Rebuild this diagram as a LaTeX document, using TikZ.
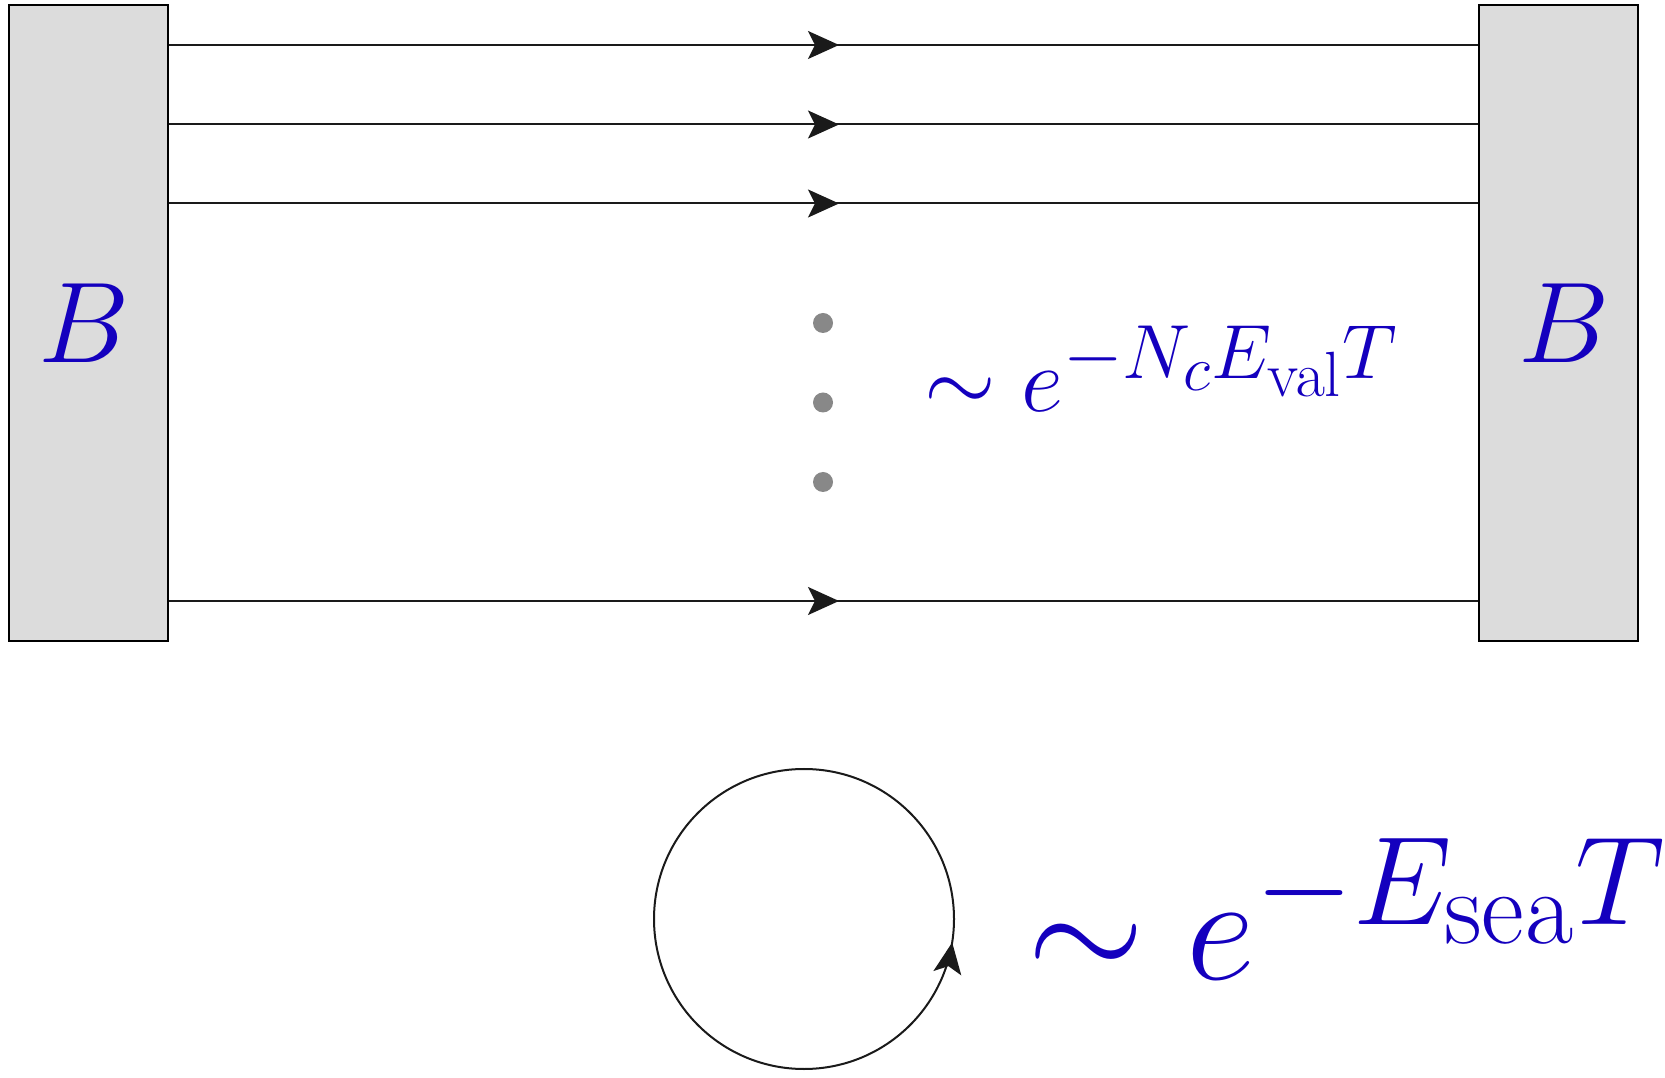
\documentclass[tikz,border=0pt]{standalone}
\usepackage{graphicx}
\usetikzlibrary{arrows.meta,decorations.markings}
\definecolor{txtblue}{RGB}{20,0,190}
\definecolor{boxgray}{RGB}{220,220,220}
\definecolor{linegray}{RGB}{26,26,26}
\definecolor{dotgray}{RGB}{136,136,136}
\tikzset{
  midtip/.tip={Stealth[length=31pt,width=28pt,inset=7pt]},
  wall/.style={draw=black, fill=boxgray, line width=2pt, minimum width=159pt, minimum height=636pt, inner sep=0pt},
  quark/.style={draw=linegray, line width=2pt,
    decoration={markings, mark=at position 670pt with {\arrow{midtip}}}, postaction={decorate}},
  loopq/.style={draw=linegray, line width=2pt,
    decoration={markings, mark=at position 0.975 with {\arrow{midtip}}}, postaction={decorate}},
  dotn/.style={circle, fill=dotgray, minimum size=20pt, inner sep=0pt},
  lbl/.style={text=txtblue, inner sep=0pt, font=\Huge},
}
\begin{document}
\begin{tikzpicture}[x=1pt,y=1pt]
\useasboundingbox (0,0) rectangle (1665,1077);
\node[wall] (L) at (88.5,754) {};
\node[wall] (R) at (1558.5,754) {};
\node[lbl] (BL) at (84,754) {\scalebox{4.62}{$B$}};
\node[lbl] (BR) at (1564,754) {\scalebox{4.62}{$B$}};
\draw[quark] (L.east |- 0,1032) -- (R.west |- 0,1032);
\draw[quark] (L.east |- 0,952.5) -- (R.west |- 0,952.5);
\draw[quark] (L.east |- 0,873.5) -- (R.west |- 0,873.5);
\draw[quark] (L.east |- 0,476) -- (R.west |- 0,476);
\node[dotn] (d1) at (823,754) {};
\node[dotn] (d2) at (823,674.5) {};
\node[dotn] (d3) at (823,595) {};
\node[lbl, anchor=base west] (val) at (924,665) {\scalebox{3.7}{$\sim e^{-N_c E_{\mathrm{val}} T}$}};
\draw[loopq] (804,158) circle[radius=150];
\node[lbl, anchor=base west] (sea) at (1027,98) {\scalebox{6.07}{$\sim e^{-E_{\mathrm{sea}} T}$}};
\end{tikzpicture}
\end{document}
